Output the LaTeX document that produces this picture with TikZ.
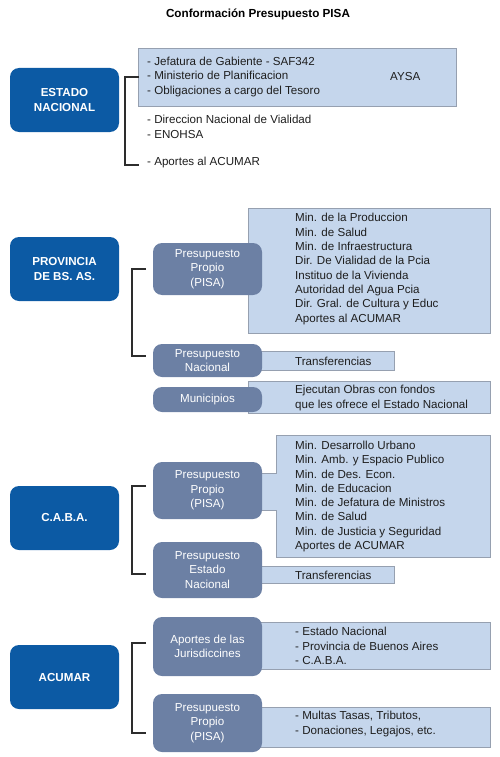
\documentclass[tikz,border=0pt]{standalone}
\usepackage{fontspec}
\setmainfont{Liberation Sans}
\definecolor{dkblue}{RGB}{12,90,164}
\definecolor{midblue}{RGB}{108,128,164}
\definecolor{ltblue}{RGB}{197,214,236}
\definecolor{bdgray}{RGB}{150,160,176}
\definecolor{txtc}{RGB}{30,30,30}
\definecolor{brkc}{RGB}{45,45,45}
\newcommand\mfs{\fontsize{11.6}{14.3}\selectfont}
\begin{document}
\begin{tikzpicture}[x=1pt,y=-1pt,
  dark/.style={fill=dkblue, text=white, rounded corners=9pt, font=\bfseries\mfs, align=center, inner sep=0pt, minimum width=109pt, minimum height=64pt},
  mid/.style={fill=midblue, text=white, rounded corners=9pt, font=\mfs, align=center, inner sep=0pt, minimum width=109pt},
  lite/.style={fill=ltblue, draw=bdgray, line width=0.8pt, inner sep=0pt},
  txt/.style={anchor=west, align=left, font=\mfs, text=txtc, inner sep=0pt},
  brk/.style={draw=brkc, line width=1.2pt}]
\useasboundingbox (0,0) rectangle (500,757);

% title
\node[font=\bfseries\fontsize{11.7}{14}\selectfont, text=black] (title) at (258,14) {Conformación Presupuesto PISA};

% ---------- Estado Nacional ----------
\node[dark] (en) at (64.5,100) {ESTADO\\NACIONAL};
\node[lite, minimum width=318pt, minimum height=58pt] (enbox) at (297,77) {};
\node[txt] (enl1) at (147,77) {- Jefatura de Gabiente - SAF342\\- Ministerio de Planificacion\\- Obligaciones a cargo del Tesoro};
\node[txt] (aysa) at (390,77) {AYSA};
\node[txt, font=\fontsize{11.6}{15.7}\selectfont] (enl2) at (147,127) {- Direccion Nacional de Vialidad\\- ENOHSA};
\node[txt] (enl3) at (147,163) {- Aportes al ACUMAR};
\coordinate (b1a) at (139,77);
\coordinate (b1b) at (139,165);
\draw[brk] (b1a) -- ++(-14,0) |- (b1b);

% ---------- Provincia ----------
\node[dark] (pba) at (64.5,269) {PROVINCIA\\DE BS. AS.};
\node[lite, minimum width=242pt, minimum height=125pt] (pbalist) at (369,270.5) {};
\node[lite, minimum width=139pt, minimum height=19pt] (pbatrbox) at (324.5,360.5) {};
\node[lite, minimum width=242pt, minimum height=32pt] (ejbox) at (369,397) {};
\node[mid, minimum height=52pt] (pbaprop) at (207.5,269) {Presupuesto\\Propio\\(PISA)};
\node[mid, minimum height=33pt] (pbanac) at (207.5,360.5) {Presupuesto\\Nacional};
\node[mid, minimum height=25pt] (muni) at (207.5,399.5) {Municipios};
\node[txt] (pbal) at (295,269) {Min. de la Produccion\\Min. de Salud\\Min. de Infraestructura\\Dir. De Vialidad de la Pcia\\Instituo de la Vivienda\\Autoridad del Agua Pcia\\Dir. Gral. de Cultura y Educ\\Aportes al ACUMAR};
\node[txt] (pbatr) at (295,361.5) {Transferencias};
\node[txt] (ejec) at (295,398) {Ejecutan Obras con fondos\\que les ofrece el Estado Nacional};
\coordinate (b2a) at (146,269);
\coordinate (b2b) at (146,356);
\draw[brk] (b2a) -- ++(-14,0) |- (b2b);

% ---------- CABA ----------
\node[dark] (caba) at (64.5,518) {C.A.B.A.};
\draw[lite] (276,435) -- (490,435) -- (490,557) -- (276,557) -- (276,510) -- (255,510) -- (255,473) -- (276,473) -- cycle;
\node[lite, minimum width=139pt, minimum height=17pt] (cabatrbox) at (324.5,574.5) {};
\node[mid, minimum height=57pt] (cabaprop) at (207.5,490.5) {Presupuesto\\Propio\\(PISA)};
\node[mid, minimum height=56pt] (cabanac) at (207.5,570) {Presupuesto\\Estado\\Nacional};
\node[txt] (cabal) at (295,496.5) {Min. Desarrollo Urbano\\Min. Amb. y Espacio Publico\\Min. de Des. Econ.\\Min. de Educacion\\Min. de Jefatura de Ministros\\Min. de Salud\\Min. de Justicia y Seguridad\\Aportes de ACUMAR};
\node[txt] (cabatr) at (295,575) {Transferencias};
\coordinate (b3a) at (146,486);
\coordinate (b3b) at (146,574);
\draw[brk] (b3a) -- ++(-14,0) |- (b3b);

% ---------- ACUMAR ----------
\node[dark] (acu) at (64.5,677) {ACUMAR};
\node[lite, minimum width=235pt, minimum height=47pt] (acuapbox) at (372.5,645.5) {};
\node[lite, minimum width=235pt, minimum height=40pt] (acuprbox) at (372.5,727) {};
\node[mid, minimum height=59pt] (acuap) at (207.5,646.5) {Aportes de las\\Jurisdiccines};
\node[mid, minimum height=58pt] (acupr) at (207.5,723) {Presupuesto\\Propio\\(PISA)};
\node[txt] (acuapl) at (295,646) {- Estado Nacional\\- Provincia de Buenos Aires\\- C.A.B.A.};
\node[txt] (acuprl) at (295,724) {- Multas Tasas, Tributos,\\- Donaciones, Legajos, etc.};
\coordinate (b4a) at (146,643);
\coordinate (b4b) at (146,733);
\draw[brk] (b4a) -- ++(-14,0) |- (b4b);
\end{tikzpicture}
\end{document}
